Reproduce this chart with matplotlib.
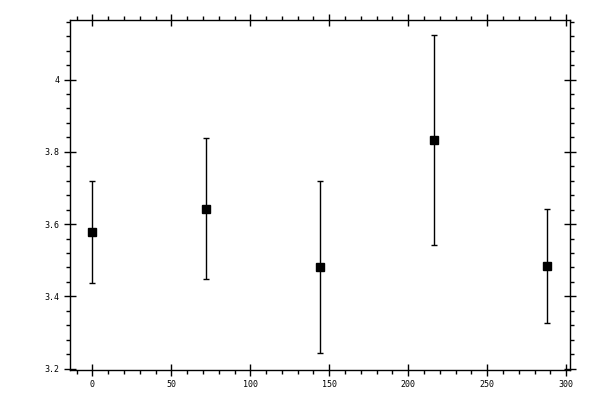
import matplotlib
matplotlib.use("Agg")
import matplotlib.pyplot as plt
from matplotlib.ticker import MultipleLocator, FuncFormatter

# data
x_vals = [0, 72, 144, 216, 288]
y_vals = [3.578, 3.642, 3.481, 3.833, 3.483]
y_err = [0.141, 0.195, 0.238, 0.290, 0.158]

fig = plt.figure(figsize=(6, 4), dpi=100)
ax = fig.add_axes([0.116, 0.075, 0.834, 0.876])

ax.errorbar(
    x_vals, y_vals, yerr=y_err,
    fmt="s", color="black", markersize=5.5,
    ecolor="black", elinewidth=1, capsize=2.5, capthick=1,
)

ax.set_xlim(-14.4, 302.4)
ax.set_ylim(3.196, 4.166)

ax.xaxis.set_major_locator(MultipleLocator(50))
ax.xaxis.set_minor_locator(MultipleLocator(10))
ax.yaxis.set_major_locator(MultipleLocator(0.2))
ax.yaxis.set_minor_locator(MultipleLocator(0.04))
ax.yaxis.set_major_formatter(FuncFormatter(lambda v, p: f"{v:g}"))

for s in ax.spines.values():
    s.set_linewidth(1)

ax.tick_params(which="major", direction="inout", length=8, width=1,
               top=True, right=True, labelsize=6, pad=3)
ax.tick_params(which="minor", direction="out", length=3, width=1,
               top=True, right=True)
for lbl in ax.get_xticklabels() + ax.get_yticklabels():
    lbl.set_family("DejaVu Sans Mono")

fig.savefig("out.png", dpi=100)
